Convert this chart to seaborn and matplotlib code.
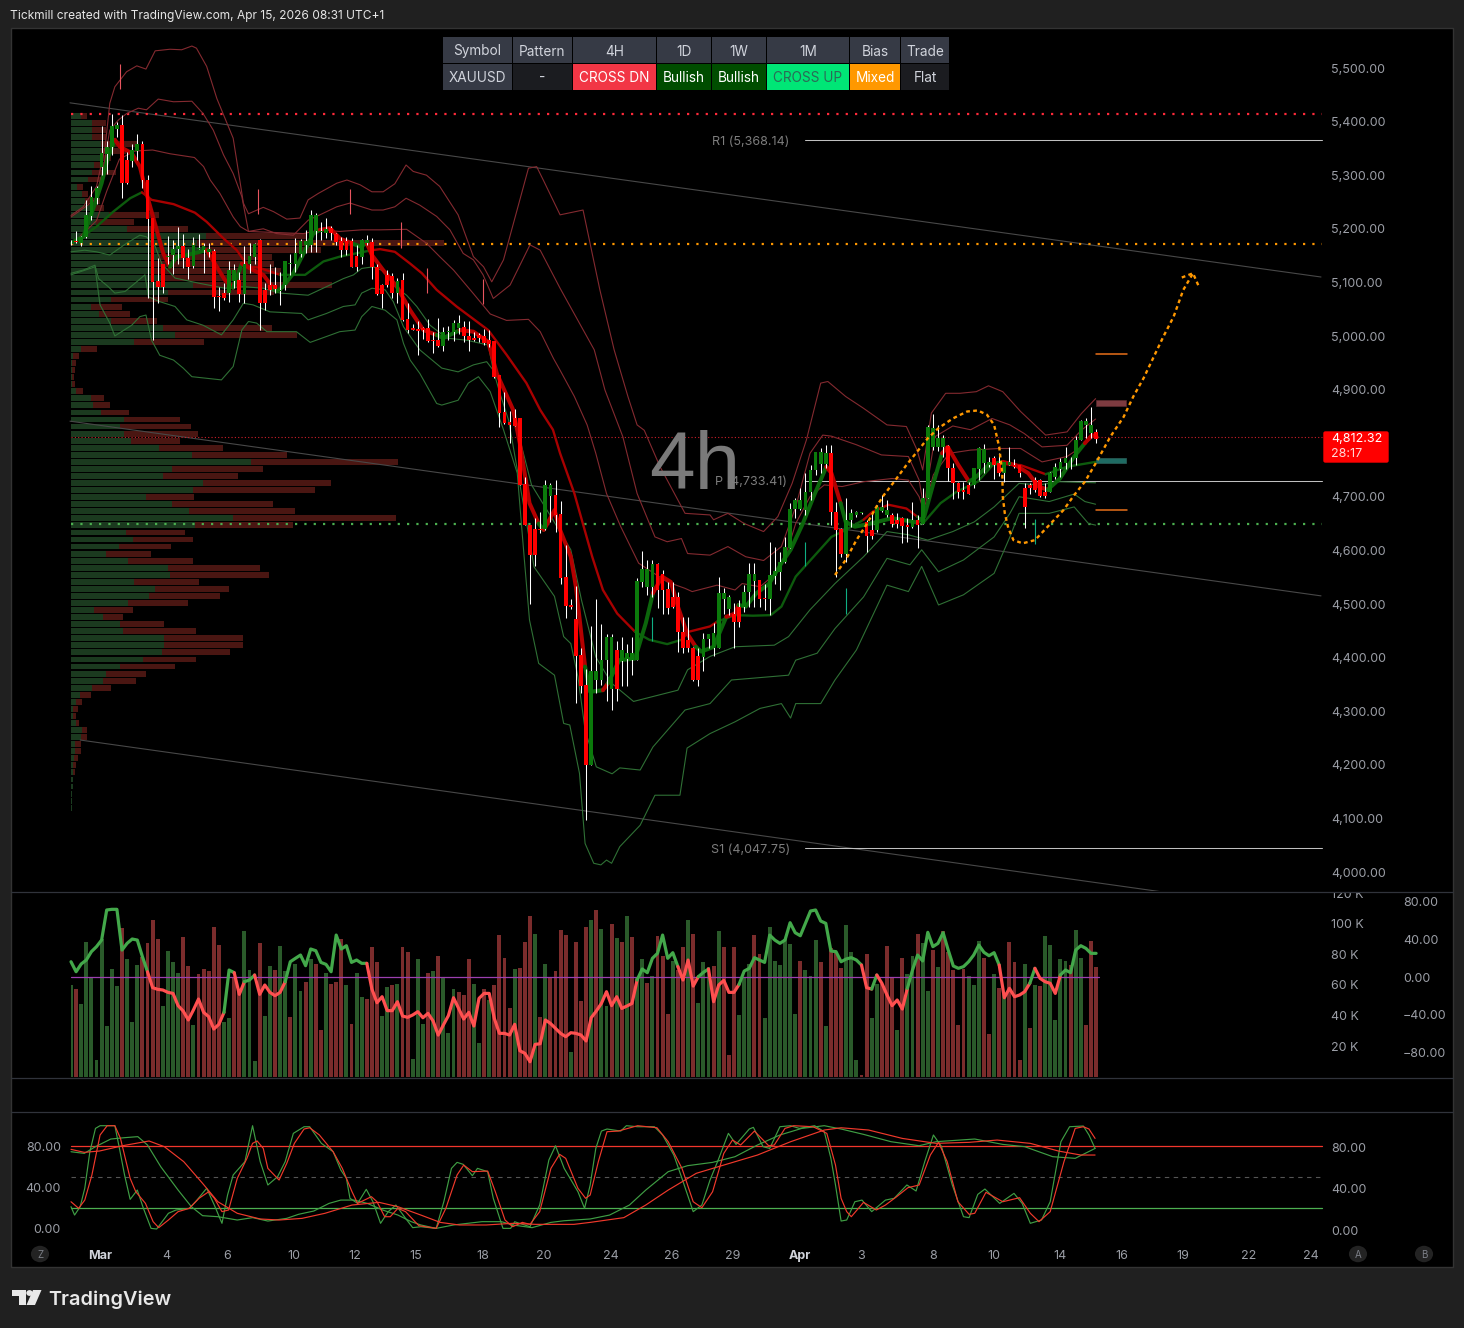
import numpy as np
import pandas as pd
import matplotlib
matplotlib.use("Agg")
import matplotlib.pyplot as plt
from matplotlib.patches import Rectangle, Circle, Polygon, FancyBboxPatch
from matplotlib.lines import Line2D
from matplotlib.transforms import ScaledTranslation
import seaborn as sns

# ---------- candles (4h XAUUSD) ----------
candle_dir = ("rrgggggggg" "rrggrrrrrg" "ggrrggggrr" "rggrgggrrr" "rggggggggg"
              "grrrrrrggr" "rrrrgrrrrr" "rrrggggrrr" "rrrrrrrrrr" "rrrggrrrrr"
              "rrgggggrgg" "gggggrrrrr" "rrrrgggggg" "rrgggrrggg" "gggggggggr"
              "rrggggrrgg" "grrrrgrggg" "ggrrrrrggg" "grrggrrrrr" "rrgggggggg" "gr")
body_top = [5176,5178,5184,5226,5260,5277,5341,5353,5391,5394,
            5394,5328,5347,5358,5358,5291,5221,5102,5135,5149,
            5163,5168,5168,5145,5170,5165,5168,5162,5159,5075,
            5080,5123,5124,5104,5135,5149,5172,5179,5086,5095,
            5095,5086,5139,5137,5154,5178,5178,5226,5226,5196,
            5199,5201,5190,5178,5178,5178,5149,5179,5179,5176,
            5128,5095,5114,5112,5103,5104,5031,5015,5013,5014,
            5014,4993,4993,5008,5009,5024,5024,5016,5000,4996,
            5001,5000,4993,4991,4927,4859,4839,4846,4846,4724,
            4647,4639,4639,4722,4722,4703,4668,4551,4498,4472,
            4405,4349,4375,4375,4395,4438,4438,4414,4414,4409,
            4409,4543,4566,4566,4574,4574,4556,4527,4512,4513,
            4448,4433,4417,4402,4434,4444,4445,4520,4520,4512,
            4482,4495,4523,4556,4556,4545,4511,4554,4562,4579,
            4607,4678,4694,4694,4709,4750,4784,4784,4781,4781,
            4672,4640,4656,4669,4672,4671,4653,4638,4681,4681,
            4675,4666,4657,4660,4647,4657,4657,4697,4831,4829,
            4809,4809,4795,4753,4726,4713,4722,4753,4790,4789,
            4765,4772,4762,4764,4764,4759,4759,4717,4722,4731,
            4731,4709,4745,4755,4765,4773,4773,4806,4842,4842,
            4834,4821]
body_bottom = [5175,5175,5173,5184,5224,5257,5316,5340,5352,5387,
               5285,5285,5327,5346,5291,5219,5101,5092,5092,5147,
               5151,5163,5145,5129,5130,5163,5160,5157,5073,5072,
               5070,5080,5103,5078,5078,5134,5148,5062,5061,5086,
               5087,5083,5095,5134,5135,5153,5170,5170,5195,5194,
               5192,5192,5176,5160,5160,5129,5129,5148,5173,5128,
               5078,5078,5095,5080,5081,5030,5011,5011,5010,5011,
               4991,4991,4981,4981,5007,5008,5014,4999,4993,4993,
               4996,4986,4985,4924,4856,4837,4834,4832,4722,4647,
               4591,4591,4638,4639,4701,4666,4549,4496,4494,4402,
               4347,4199,4199,4358,4358,4395,4342,4342,4394,4398,
               4395,4395,4541,4532,4532,4526,4526,4492,4494,4448,
               4418,4418,4358,4358,4400,4434,4417,4417,4510,4490,
               4467,4467,4495,4523,4543,4510,4510,4510,4552,4560,
               4579,4604,4677,4677,4676,4709,4749,4761,4761,4672,
               4638,4594,4594,4656,4666,4669,4627,4627,4638,4673,
               4665,4650,4650,4646,4643,4643,4647,4650,4697,4793,
               4792,4793,4753,4725,4709,4708,4706,4722,4751,4762,
               4759,4759,4744,4745,4759,4756,4745,4680,4717,4713,
               4701,4701,4709,4737,4751,4762,4772,4772,4805,4834,
               4818,4807]
wick_high = [5179,5196,5187,5254,5279,5279,5391,5363,5415,5400,
             5412,5344,5358,5377,5364,5300,5221,5145,5135,5186,
             5179,5203,5191,5163,5185,5191,5173,5173,5162,5092,
             5098,5139,5135,5120,5167,5173,5173,5180,5098,5135,
             5128,5120,5139,5153,5182,5180,5198,5235,5230,5213,
             5221,5205,5193,5185,5185,5182,5170,5180,5188,5182,
             5134,5097,5124,5118,5108,5117,5061,5023,5027,5017,
             5031,5008,5033,5017,5019,5030,5040,5027,5027,5008,
             5006,5013,5012,4991,4928,4896,4860,4863,4846,4736,
             4647,4660,4672,4731,4725,4731,4692,4610,4510,4533,
             4417,4378,4459,4509,4463,4444,4444,4430,4439,4426,
             4439,4548,4599,4582,4582,4576,4563,4541,4541,4523,
             4476,4476,4420,4417,4445,4444,4464,4551,4530,4517,
             4501,4507,4535,4577,4576,4545,4538,4616,4607,4597,
             4625,4688,4697,4716,4744,4759,4784,4790,4797,4797,
             4691,4641,4697,4678,4673,4671,4657,4669,4685,4703,
             4694,4669,4669,4663,4660,4691,4666,4716,4834,4854,
             4834,4815,4797,4762,4728,4728,4728,4753,4793,4798,
             4775,4776,4781,4765,4793,4770,4759,4725,4725,4736,
             4734,4725,4747,4762,4773,4793,4775,4813,4843,4846,
             4868,4826]
wick_low = [5170,5173,5167,5182,5216,5247,5300,5303,5338,5372,
            5258,5284,5316,5328,5277,5071,4992,5062,5080,5135,
            5116,5135,5126,5107,5126,5163,5117,5148,5052,5047,
            5067,5064,5089,5064,5061,5117,5135,5012,5048,5076,
            5080,5058,5086,5114,5120,5148,5154,5157,5157,5179,
            5182,5179,5170,5147,5151,5128,5122,5135,5170,5107,
            5076,5053,5092,5070,5061,5028,5006,5011,4965,4994,
            4989,4968,4980,4971,4993,4991,5004,4989,4971,4991,
            4989,4983,4980,4922,4831,4835,4801,4832,4722,4647,
            4500,4571,4632,4637,4653,4635,4537,4474,4491,4316,
            4333,4096,4199,4333,4349,4318,4302,4318,4346,4346,
            4367,4395,4532,4517,4513,4492,4482,4482,4492,4411,
            4409,4411,4356,4347,4374,4417,4402,4417,4482,4479,
            4417,4456,4485,4494,4495,4494,4489,4479,4538,4526,
            4576,4604,4660,4676,4666,4694,4741,4744,4753,4647,
            4551,4588,4579,4644,4663,4668,4597,4622,4635,4672,
            4663,4644,4641,4613,4616,4641,4604,4649,4697,4787,
            4786,4775,4730,4696,4697,4696,4705,4716,4731,4745,
            4756,4734,4739,4728,4759,4753,4737,4642,4706,4709,
            4700,4697,4708,4734,4737,4751,4751,4759,4805,4809,
            4809,4801]

# ---------- bands, x in bar numbers ----------
u3_x = [0,2.4,5,6.7,7.6,8.6,10.9,12.9,14.7,16.5,19.4,21.7,23.7,24.6,26.6,28.6,31.8,33.8,34.8,37.7,39.7,42.3,44.9,46.5,48.5,52.1,54.1,56.7,59,61.2,63.5,65.7,67.1,69.7,72.3,75.9,78.9,80.9,82.5,84.8,89.7,91.3,92.6,95.9,100.4,103.7,106.5,109.2,111,112.4,115.5,120.4,125.3,126,128.8,132,135.8,138.6,141.4,144.2,147,148.4,151.9,155.4,160,163.8,165.9,167,168.7,171.5,174.3,177.5,179.9,182.7,186.2,191.1,195.3,198.1,200.9]
u3_y = [5225,5241,5279,5353,5434,5465,5493,5504,5498,5532,5535,5534,5541,5537,5503,5443,5369,5248,5228,5240,5232,5218,5220,5254,5266,5285,5291,5282,5269,5269,5284,5319,5307,5300,5279,5226,5148,5129,5101,5142,5313,5316,5291,5226,5235,5086,4974,4887,4834,4824,4756,4669,4666,4657,4669,4650,4635,4663,4725,4806,4912,4915,4887,4865,4834,4831,4787,4750,4856,4893,4893,4896,4907,4896,4859,4815,4821,4855,4883]
u2_x = [0,2.4,4.7,6.3,7.6,9.3,10.9,13.2,14.8,17.1,20.1,23.7,25.9,27.9,29.9,31.8,33.5,34.8,37.7,40.3,43.6,46.5,48.8,52.1,54.7,59,61.2,63.5,65.7,68.4,71.7,74.3,76.9,78.9,80.8,82.8,86.1,90,92,95.9,102.6,104.7,108.2,111,114.5,116.9,119.7,120.9,125.3,128.8,132.3,135.8,139.3,142.1,144.9,147.4,149.1,154,158.9,164.2,166.3,167.2,169.4,172.9,176.4,180.6,184.1,186.9,190.4,195.3,198.1,200.9]
u2_y = [5222,5238,5254,5310,5384,5403,5415,5425,5422,5442,5437,5438,5415,5384,5338,5303,5260,5195,5200,5191,5188,5216,5226,5241,5248,5235,5235,5241,5257,5244,5223,5198,5154,5142,5114,5070,5095,5170,5160,5089,4974,4899,4812,4706,4625,4616,4622,4594,4591,4607,4588,4581,4607,4681,4781,4815,4813,4797,4778,4775,4731,4681,4812,4832,4825,4846,4834,4818,4793,4796,4824,4845]
u1_x = [0,5,7,9.5,12.5,16,19.4,24.2,26,27.3,29.2,31.8,33.2,34.8,45.6,48.8,52.7,57,60.6,65.8,69.7,72.3,75,78.9,82.2,85.4,89.7,92,94.6,95.9,98.7,101.2,102.9,105,107.8,111.3,116.9,120.4,121.8,126.7,130.2,131.6,135.1,138.6,140.7,142.1,144.9,147.7,151.2,155.4,161,164.2,166.3,167.2,169.1,172.2,176.4,182,186.2,190.4,195.3,198.1,200.9]
u1_y = [5170,5215,5270,5330,5345,5347,5340,5333,5316,5291,5266,5222,5204,5195,5191,5198,5195,5198,5198,5199,5173,5148,5123,5079,5041,5029,5031,5008,4958,4936,4887,4834,4781,4706,4644,4576,4541,4529,4523,4535,4526,4538,4532,4560,4607,4650,4700,4722,4719,4728,4734,4731,4700,4675,4741,4781,4787,4790,4790,4765,4775,4793,4815]
l1_x = [0,2.7,5,7.6,10.9,13.5,14.8,16.5,17.8,20.4,25.3,30.2,33.8,37.7,41,46.5,50.1,53.4,55.4,57,59.3,61.6,63.5,65.8,67.8,70.4,73.7,77.6,81.8,82.8,85.1,87.1,88.2,90.3,94.1,98,100.1,102.9,106,110.3,119,120.9,125.3,130.2,137.9,140.7,144.9,149.8,155.4,160,164.2,168,172.9,177.1,181,185.9,189.7,193.9,200.9]
l1_y = [5157,5160,5157,5151,5173,5188,5185,5167,5135,5108,5098,5089,5092,5089,5080,5076,5092,5107,5114,5126,5129,5120,5092,5076,5055,5020,4996,4992,4983,4936,4899,4849,4800,4722,4663,4601,4507,4401,4352,4318,4339,4377,4402,4420,4423,4439,4489,4538,4588,4635,4629,4619,4635,4653,4681,4725,4722,4728,4726]
l2_x = [0,2.4,4.7,5.4,7.3,8.6,10.6,12.5,14.5,15.2,17.4,20.4,22.7,25.9,29.5,31.8,33.8,35.7,39,45.2,46.5,50.1,53.4,55.7,57,59,61.6,63.2,65.2,68.4,72.7,75.9,78.9,81.5,82.8,84.1,85.8,88.9,90.8,94.8,96.6,98,99.4,100.8,103,106.1,107.6,111.6,114.1,120.4,125.3,129.5,140.7,142.1,146.3,149.8,155.4,160,164.5,166.8,170.1,175,181,184.1,185.9,191.8,196.7,198.8,200.9]
l2_y = [5117,5123,5132,5107,5092,5080,5083,5098,5114,5073,5064,5055,5030,5020,5002,5030,5061,5058,5045,5042,5030,5042,5055,5058,5080,5089,5086,5064,5017,4974,4940,4933,4946,4952,4936,4893,4843,4675,4569,4514,4439,4426,4364,4265,4196,4183,4194,4190,4233,4302,4314,4358,4367,4395,4408,4454,4513,4585,4573,4601,4560,4582,4625,4669,4700,4691,4705,4691,4686]
l3_x = [0,4.7,5.7,7.6,8.6,11.9,13.5,14.7,15.8,17.4,20.1,22,23.7,26.6,29.5,31.8,33.5,34.8,36.4,38.4,44.2,46.9,50.1,52.7,55.7,57,59,61.6,63.9,65.2,66.5,68.4,71.7,72.7,75.9,77.9,79.9,82.2,84.8,87.5,88.9,89.9,91.7,94.8,96.6,97.8,99.7,100.8,102.5,103.9,105,106,107.6,111.6,114.5,119.4,120.8,125.3,130.2,135.1,139.3,141.1,142.1,147,149.8,154,160,164.2,166.8,170.1,175,181,184.1,185.9,191.8,196.7,199.5,200.9]
l3_y = [5114,5129,5058,5024,5000,5020,5036,5039,4992,4964,4955,4940,4924,4921,4918,4943,5011,5027,5024,5008,5008,4988,4999,5008,5011,5036,5055,5048,5030,4986,4955,4930,4874,4871,4880,4912,4924,4896,4825,4744,4582,4470,4389,4367,4277,4274,4184,4053,4016,4013,4022,4016,4047,4087,4143,4143,4231,4258,4280,4305,4314,4287,4314,4314,4358,4414,4535,4523,4570,4498,4517,4557,4625,4669,4669,4681,4650,4647]

# medium line: 1 rising colour, 0 falling colour for the piece that starts at each point
mid_x = [0,1.8,5,8.3,11.6,13.9,15.8,20.1,24.3,26.6,29.9,32.5,34.8,36.7,41,43.6,45.9,49.5,52.7,59,60.6,63.5,66.5,68.8,71.7,75.6,81.8,85.4,89.3,92,94.5,95.9,98.7,102.2,104.3,107.1,110.6,113.4,116.9,119.7,121.1,125.3,126.7,130.2,133.7,137.2,139.3,142.1,145.6,149.1,151.9,155.4,157.2,160.3,163.8,165.9,167.3,170.5,173.6,177.8,181,186.2,191.1,195.3,200.9]
mid_y = [5173,5182,5204,5232,5257,5268,5254,5246,5230,5213,5182,5160,5129,5128,5114,5114,5114,5139,5148,5160,5162,5157,5135,5117,5086,5055,5011,4965,4912,4862,4825,4781,4706,4588,4526,4482,4448,4433,4425,4433,4448,4458,4467,4479,4478,4479,4495,4551,4588,4625,4638,4657,4672,4685,4678,4663,4653,4688,4709,4728,4762,4759,4742,4756,4765]
mid_up = [1,1,1,1,1,0,0,0,0,0,0,0,0,0,1,1,1,1,1,0,0,0,0,0,0,0,0,0,0,0,0,0,0,0,0,0,1,1,1,0,0,0,1,1,1,1,1,1,1,1,1,0,0,0,0,1,1,1,1,1,0,0,1,1,1]

fast_x = [0.5,2.4,4.7,6,7.3,8.6,9.6,11.9,13.5,14.8,16.8,18.1,19.4,20.7,22.7,25.3,26.6,28.2,30.2,31.8,33.5,35.7,37.7,39.7,40.3,41.6,43.6,45.6,47.5,48.8,50.8,52.7,55,56.7,58,59,61.2,63.9,66.5,69.1,71.7,73,76.3,78.9,81.8,83.5,86.7,88,89.9,91.7,92.7,93.8,94.8,95.9,98,99,100.8,101.8,104.3,105.3,107.5,110.6,112.7,114.1,115.9,117.6,119,120.8,122.5,123.6,126,128.5,130.2,130.9,132.3,134.4,136.9,139.3,141.1,143.5,145.6,148.1,149.1,150.9,151.9,153.7,156.8,161,165.9,167.3,169.1,170.8,171.9,174,176.1,177.5,179.9,182.7,185.2,187.7,189.7,191.5,193.9,196.7,198.8,200.2,201.1]
fast_y = [5176,5185,5247,5285,5335,5366,5353,5341,5316,5266,5198,5154,5129,5148,5151,5157,5160,5135,5104,5090,5135,5123,5114,5089,5083,5092,5117,5154,5191,5198,5201,5182,5173,5167,5173,5151,5123,5092,5048,5011,5002,4996,5011,5008,4989,4930,4862,4800,4688,4650,4638,4657,4675,4638,4588,4532,4383,4336,4339,4352,4395,4398,4464,4520,4551,4541,4495,4445,4420,4411,4420,4476,4482,4498,4495,4520,4538,4576,4601,4650,4700,4756,4744,4688,4653,4644,4650,4660,4652,4663,4725,4781,4793,4759,4728,4737,4759,4765,4759,4744,4719,4713,4734,4775,4800,4815,4812]
fast_up = [1,1,1,1,1,0,0,0,0,0,0,0,1,1,1,1,0,0,0,1,0,0,0,1,1,1,1,1,1,0,0,0,1,1,0,0,0,0,0,0,1,1,0,0,0,0,0,0,0,1,0,0,0,0,0,0,1,1,0,1,1,1,1,0,0,0,0,0,1,1,1,0,0,1,1,1,1,1,1,1,1,0,0,1,1,1,1,1,1,1,1,0,0,0,1,1,1,0,0,0,0,1,1,1,0,0,0]

# ---------- dashed projection ----------
path_x = [149.8,151.9,154,156.1,157.9,159.3,161.4,163.8,165.9,168,170.1,172.9,175.7,177.8,179.6,181,182,182.6,182.7,183.1,183.8,184.8,186.6,189,191.8,194.6,196.7,198.8,200.9,203.8,206.4,208.3,210.3,212.3,214.2,216.2,218.1,220]
path_y = [4554,4582,4619,4650,4681,4702,4728,4759,4784,4809,4828,4846,4859,4861,4853,4834,4793,4744,4700,4669,4641,4619,4613,4619,4647,4675,4703,4728,4762,4812,4849,4887,4921,4961,4999,5036,5086,5117]
arrow_x = [217.8,220,221.2]
arrow_y = [5109,5117,5091]

# ---------- volume profile, one row per price step ----------
profile_top = 5410.4
profile_step = 13.17
profile_buy = [2,4.2,4.1,4.1,5.8,5.8,5.6,4.6,4.2,3.4,1.1,2.1,2.7,4.6,7.5,4.9,11,26.5,24.8,26.5,
               17,15.7,15.7,18,23.9,19.1,7.8,3.9,5.4,7.8,18,20.4,12.4,2,.3,.1,.1,.1,.1,1,
               3.9,4.3,5.9,10.4,9.6,10.4,11.8,17.3,23.8,35.3,19.9,18.1,25.9,23.9,14.7,19.9,23.1,31.8,24.4,10.8,
               12.2,9.4,6.9,11.1,19,19.5,12.3,16.5,15.3,11.1,4.5,6.2,9.7,10.2,18.2,18.2,17.9,14.1,9.7,6.9,
               6.3,4.1,1.8,1,.4,.4,1,2.2,2,.8,.8,.5,.4,.3,.3,.3,.2,.2,.1,.05]
profile_total = [3.1,6.9,6.9,6.9,12.9,10.8,7.8,6.9,8.8,5.9,2.3,3.3,5.6,6.5,17.2,12.3,22.9,46.1,73.2,49,
                 39.5,39.9,41.2,36.9,51.1,39.9,19,10,11.6,16.9,39.5,44.4,26,5,1.5,1,.8,.5,.8,2.3,
                 6.5,7.6,11.3,21.4,23.5,24.9,21.4,29.8,42.3,64.2,37.7,32.7,50.9,47.8,24.1,39.7,44,63.7,43.6,22.3,
                 23.9,19.7,15.7,23.9,37,38.9,25,31,29.2,22.9,12.1,10.2,18.2,24.6,33.8,33.8,31.1,24.6,20.3,14.8,
                 12.7,7.8,3.9,2.1,1.3,.9,1.5,3.1,3.1,1.9,1.9,1.3,.9,.7,.4,.3,.2,.2,.1,.05]

# ---------- volume pane ----------
volume_k = [59.7,57.1,47.3,87.6,64.3,10.7,89.8,32.7,70.2,59,
            97,76.7,35.5,72.8,77.8,87.2,102.2,89.8,46,81.9,
            74.7,67.5,91.1,72.1,33.6,66.9,70.2,68.9,97.6,85.9,
            35.5,38.1,64.9,55.6,95,69.5,10,87.2,39.4,72.1,
            69.5,85.2,69.1,38.8,73.4,55.8,61.7,76.7,73.4,30.3,
            67.5,60.4,61.7,89.8,59.7,34.2,67.5,51.9,50.6,84.5,
            74.7,39.4,58.4,59.7,60.4,84.5,81.3,11.3,76.7,34.2,
            67.5,68.9,78.7,64.3,28.3,57.1,55.1,53.2,76.7,60.4,
            21.8,57.1,49.9,59.7,92.4,77.4,44.7,70.2,70.8,87.8,
            104.8,93,38.8,73.4,64.3,68.9,95.7,92.4,15.9,87.8,
            49.2,97.6,102.2,108.7,96.3,46,99.6,90.4,87.8,104.8,
            91.1,64.3,76.7,61,65.6,92,78.7,40.7,75.4,69.5,
            84.5,102.2,93,47.9,74.7,71.3,72.1,95,84.5,13.9,
            84.5,40.1,64.3,73.4,92.4,80,38.1,97.6,75.4,72.8,
            89.8,86.5,40.7,75.4,69.5,65.6,89.1,74.7,32.9,83.9,
            81.3,70.8,98.9,81.3,10.7,0.7,80,38.1,60.4,60.4,
            85.2,64.9,30.3,77.4,66.9,78.7,93,87.2,55.8,82.6,
            71.5,95,81.3,69.9,33.6,70.2,65.6,59.7,88.5,77.4,
            27.7,66.9,57.7,53.8,87.8,74.7,10.7,73.4,31.6,59.7,
            59,91.7,85.9,36.8,76.7,75.4,72.8,95.7,77.4,33.6,
            88.5,71.5]
volume_dir = ("grgggggggg" "rgggrrrrgg" "ggrrgrrrrr" "ggrrgggrgg" "rggrggrgrr"
              "grrrgrggrr" "rggrgrrggg" "rgrgggrrrg" "grgrrrrgrr" "rgrgrrrrgr"
              "rrgrggrgrg" "rggrgrrrgr" "rgrgggrgrr" "rgggrrgggg" "gggrgggrgr"
              "rrgggrrggr" "rrgrggrggr" "grrrrrgggr" "rgrgrrrgrg" "rgggggrggr" "rr")
osc_value = [16.2,5.6,13.8,18,26.9,32.2,39.2,71.1,71.8,71.8,
             28.6,35.7,40.3,39.2,21.6,5.6,-11.3,-13.1,-13.8,-16.3,
             -17.4,-30.4,-36.1,-45.6,-35,-23.4,-37.5,-42.1,-55.2,-50.2,
             -37.5,7.4,4.6,-18.4,-5,-3.2,2.1,-18.4,-8.5,-16.3,
             -19.8,-16.3,-5,16.2,19.8,23.3,12,29.7,27.9,15.5,
             13.4,5.6,44.5,29.7,33.2,15.5,18,14.5,14.5,-12.8,
             -27.3,-20.9,-35.7,-35.7,-26.2,-41.4,-42.8,-40.3,-36.8,-43.2,
             -38.6,-46.7,-61.6,-51,-41,-22,-33.3,-44.6,-37.5,-52,
             -22.7,-17.4,-17.4,-43.9,-59.8,-59.8,-61.6,-50.2,-78.2,-81,
             -89.9,-71.5,-70.8,-45.6,-49.2,-54.5,-59.8,-63.3,-59.1,-59.8,
             -61.6,-67.9,-43.2,-36.1,-28,-15.6,-30.4,-20.9,-33.3,-30.8,
             -28,-3.2,8.5,4.6,19.8,25.1,44.5,19.8,25.8,11,
             -3.2,18,-9.6,0.3,4.9,8.5,-26.2,-8.5,-3.6,-16.3,
             -16.3,-7.8,6.3,9.2,20.5,18,15.5,44.5,39.2,35.7,
             39.2,57.6,47,43.8,56.9,70,71.1,59.4,56.9,27.6,
             26.9,16.2,19.1,20.5,18,12.7,-11.3,-12.8,2.1,-6.7,
             -19.1,-30.4,-24.4,-34,-12,7.4,23.3,17,47.4,32.2,
             35.7,47,28.6,11.7,9.2,11,16.2,23.3,33.9,26.2,
             22.6,25.8,12.7,-22,-12,-20.9,-19.1,-15.6,-6.7,9.2,
             -1.4,-5,-6.7,-17.4,2.1,7.4,4.6,28.6,33.2,30.4,
             25.1,25.1]
osc_up = ("1111111111" "1111100000" "0000000000" "1100110000" "0011111111"
          "1111111100" "0000000000" "0000000000" "0000000000" "0000000000"
          "0000000000" "0111111110" "0001100000" "0111111111" "1111111111"
          "1111100100" "0000111111" "1111111111" "1100000010" "0000111111" "11")

# ---------- stochastic pane ----------
k_fast_x = [0,.7,1.8,2.7,3.7,4.8,5.7,8.6,9.5,10.5,11.6,13,14.2,15.7,16.8,19.1,20.6,23.2,24.7,26.6,28.1,29.6,30.7,31.8,34.1,35.6,37.1,38.6,40.5,42,43.6,45.7,46.8,49.1,51.4,52.9,54,54.7,56.2,57.9,59.2,60.7,62.2,63.7,65.6,67,68.6,71.6,73.1,74.6,75.7,76.9,78.7,79.7,81.7,82.8,84.7,86.2,87,90,91.9,93.7,95,96.7,99.4,100.7,101.8,102.9,104,105.1,107.8,108.9,111.1,114.4,116,118.2,119.8,122,123.7,125.3,126.9,128.9,130.4,133,133.8,135.7,137,139,141.1,142.8,145.8,147.7,149,149.9,151,152.1,153.7,155.1,157,159.7,161.4,163.9,165.7,167.4,169.1,170.7,172.8,175,176.1,177.8,179.2,182.1,184.9,186.5,188.1,190.3,192,194.1,195.8,198.5,199.6,200.8]
k_fast_y = [21.6,13.5,21.6,39.4,74.8,97.4,100,100,78,52.3,28.7,37.7,20,.6,0,15.2,18.4,20,28,39.4,23.2,5.5,32.9,52.3,65.2,100,65.2,42.6,50.6,65.2,92.6,99,99,82.9,74.8,57.1,49,29.7,24.8,38.4,26.4,5.5,16.8,23.2,10.3,1.3,2.2,.6,26.4,58.7,64.5,62.6,51.6,58.7,55.5,29.7,.6,.6,7,2.2,23.2,66.8,80.6,58.7,36.1,20,42.6,78,94.8,96.8,94.8,100,99,99,91,71.6,49,16.8,23.2,47.4,66.8,92.6,81.9,96.8,98.4,79.7,78,99,100,97.4,100,94.2,68.4,42.6,7.7,8.7,26.4,28,16.8,28,29.7,42.6,36.8,65.2,91,79.7,42.6,11.9,11,33.5,38.7,24.8,34.5,24.8,5.5,8.7,26.4,84.5,99,99.7,91,78]
d_fast_x = [0,1.5,2.7,4.1,5.7,7.1,8.6,9.7,11.6,12.7,14.6,16.1,17.2,19.1,21,23.2,25.1,27,28.1,29.6,30.9,32.6,34.5,35.6,36.5,37.7,38.6,40.8,42.3,43.8,45.7,46.8,48.7,51.4,53.2,55.1,56.2,58.9,60,61.5,62.6,64.1,65.6,68.2,71.6,73.5,75.7,77,78.7,81.7,83.2,85.1,86.6,88.5,90,91.9,94.1,95.8,97,99.4,100.9,101.8,103.4,105.1,107.3,111.1,114.9,117.1,119.8,122,123.7,125.8,128,129.7,131.3,134,136.8,137.9,140,141.7,145.5,148.2,149.9,151,152.1,153,155.4,157.9,159.7,161.9,164.1,166.3,168.5,170.1,171.8,173.9,176.1,177.2,179.4,182.7,186,188.1,189.8,192,194.7,196.9,198.5,199.6,200.8]
d_fast_y = [26.4,20,28,52.3,91,100,100,87.7,49,36.1,24.8,7.1,1.3,8.7,16.8,20,29.7,36.1,29.7,16.8,18.4,49,68.4,82.9,85.2,78,58.7,47.4,63.5,82.9,96.8,98,91,74.8,58.7,36.1,24.8,31.3,26.4,11.9,11.9,20,16.8,3.2,.6,20,52.3,61.9,55.5,56.1,36.1,8.7,2.2,6.4,4.5,16.8,58.7,72.3,68.4,39.4,29.7,32.9,65.2,94.2,94.8,100,98,84.5,58.7,26.4,20.6,36.1,73.2,86.1,81.3,94.8,80.6,81.3,97.4,100,99,92.6,61.9,29.7,16.8,11.9,25.8,18.4,23.2,31.3,40,42.6,71.6,83.9,65.2,26.4,14.2,15.2,35.5,26.4,30.3,15.2,7.1,16.8,65.2,97.4,99,96.8,87.7]
k_slow_x = [0,2.6,4.8,7.8,10.5,13.1,15,17.6,21,23.6,25.8,28.8,32.6,35.6,38.6,42.3,44.6,47.6,50.6,52.9,55.5,58.1,61.1,64.1,66.7,68.6,71.6,75,80.6,84.4,86.6,90.4,94.1,96.7,101.8,105.6,109.5,112.7,117.1,120.9,125.8,130.2,134.6,139,143.3,147.7,151,155.4,160.8,166.3,169.6,177.2,182.7,187,192.5,196.9,200.8]
k_slow_y = [74.8,73.2,79.7,87.1,88.4,89.4,81.3,60.3,37.7,21.6,12.9,11.9,8.7,11,7.7,10.3,14.2,17.4,24.8,28,28,24.8,18.4,13.5,7.1,3.9,.6,3.9,7.1,7.1,3.9,1.3,6.4,8,9.7,13.5,23.2,37.7,55.5,61.3,64.5,70,81.3,91,97.4,100,96.8,91.6,84.5,80.6,84.5,87.1,81.9,79.7,70,68.4,78]
d_slow_x = [0,2.6,5.6,10.1,15.3,18.3,22.1,25.8,28.8,32.6,37.1,40.8,45.3,49.8,55.1,60.4,64.1,68.6,72.4,76.1,81.4,86.6,91.1,98.6,101.8,108.4,112.7,117.1,122.6,128,134.6,141.1,147.7,151,156.4,163,169.6,176.1,181.6,188.1,193.6,198,200.8]
d_slow_y = [77.1,74.2,75.5,80.6,85.2,79.7,65.2,44.2,26.4,15.2,9.7,8.7,10.3,15.2,23.2,25.8,21.6,13.5,6.4,3.9,3.9,5.5,4.5,4.5,6.4,11,23.2,37.7,53.9,61.9,71.6,84.5,95.8,98,95.8,87.7,82.9,83.9,86.1,82.9,75.5,71.6,71.6]

# ---------- labels ----------
price_ticks = [5500,5400,5300,5200,5100,5000,4900,4800,4700,4600,4500,4400,4300,4200,4100,4000]
price_tick_labels = ["5,500.00","5,400.00","5,300.00","5,200.00","5,100.00","5,000.00","4,900.00",None,"4,700.00","4,600.00","4,500.00","4,400.00","4,300.00","4,200.00","4,100.00","4,000.00"]
vol_ticks = [120,100,80,60,40,20]
vol_labels = ["120 K","100 K","80 K","60 K","40 K","20 K"]
osc_ticks = [80,40,0,-40,-80]
osc_labels = ["80.00","40.00","0.00","\u221240.00","\u221280.00"]
stoch_ticks = [80,40,0]
stoch_labels = ["80.00","40.00","0.00"]
time_pos = [5.7,18.6,30.6,43.7,55.7,67.6,80.8,92.7,105.9,117.8,129.8,142.9,154.9,169,181,193.9,206,218,231,243.1]
time_labels = ["Mar","4","6","10","12","15","18","20","24","26","29","Apr","3","8","10","14","16","19","22","24"]
table_header = ["Symbol","Pattern","4H","1D","1W","1M","Bias","Trade"]
table_row = ["XAUUSD","-","CROSS DN","Bullish","Bullish","CROSS UP","Mixed","Flat"]
table_fill = ["#363a45","#1b1c20","#f23645","#004d00","#004d00","#00e676","#ff9800","#1b1c20"]
table_text = ["#d1d4dc","#d1d4dc","#ffffff","#ffffff","#ffffff","#2b6b57","#ffffff","#d1d4dc"]
table_edges = [443,513,573,657,712,767,850,901,950]
pivot_labels = ["R1 (5,368.14)","P (4,733.41)","S1 (4,047.75)"]
pivot_levels = [5365,4730,4044.5]

# ---------- set-up ----------
W, H = 1464, 1328
sns.set_theme(style="dark", rc={"axes.grid": False})
plt.rcParams["font.family"] = ["Inter", "DejaVu Sans"]
BG = "#202020"
fig = plt.figure(figsize=(W/100, H/100), dpi=100, facecolor=BG)

def box(x0, y0, x1, y1):
    return [x0/W, 1-y1/H, (x1-x0)/W, (y1-y0)/H]

XLIM = ((11-71)/5.1, (1453-71)/5.1)
LABEL_X = (1331-71)/5.1
RIGHT_END = (1322-71)/5.1
GREY = "#9b9ea6"
TEXT_DOWN = ScaledTranslation(0, -1.7/100, fig.dpi_scale_trans)

fig.add_artist(Rectangle((11/W, 1-1267/H), 1442/W, 1239/H, transform=fig.transFigure,
                         facecolor="black", edgecolor="none", zorder=1))
fig.add_artist(Rectangle((11/W, 1-1267/H), 1442/W, 1239/H, transform=fig.transFigure,
                         facecolor="none", edgecolor="#333333", lw=1, zorder=8))

def make_ax(y0, y1, ylim):
    ax = fig.add_axes(box(11, y0, 1453, y1), facecolor="black", zorder=2)
    return ax

def finish(ax, ylim):
    ax.set_xlim(*XLIM)
    ax.set_ylim(*ylim)
    ax.set_xticks([]); ax.set_yticks([])
    ax.set_xlabel(""); ax.set_ylabel("")
    for s in ax.spines.values():
        s.set_visible(False)

def line(ax, x, y, color, lw, z=3, **kw):
    sns.lineplot(x=list(x), y=list(y), ax=ax, color=color, lw=lw, estimator=None, sort=False,
                 errorbar=None, legend=False, zorder=z, **kw)

def colored(ax, x, y, up, cup, cdn, lw, z):
    """Draw a line piece by piece in the colour of each run."""
    start = 0
    n = len(x)
    for k in range(1, n):
        if k == n-1 or up[k] != up[start]:
            line(ax, x[start:k+1], y[start:k+1], cup if up[start] else cdn, lw, z, solid_capstyle="round")
            start = k

def label(ax, x, y, s, **kw):
    ax.text(x, y, s, transform=ax.transData + TEXT_DOWN, va="center", **kw)

# ---------- main pane ----------
main_lim = (5500-(891-68)*1.866, 5500-(28-68)*1.866)
ax = make_ax(28, 891, main_lim)
rows = [profile_top - profile_step*k for k in range(len(profile_total))]
sns.barplot(x=profile_total, y=rows, orient="y", native_scale=True, color="#4a1612", saturation=1,
            width=0.83, linewidth=0, errorbar=None, ax=ax, zorder=1)
sns.barplot(x=profile_buy, y=rows, orient="y", native_scale=True, color="#1b3a1f", saturation=1,
            width=0.83, linewidth=0, errorbar=None, ax=ax, zorder=1.1)

# trend lines
for tx, ty in [((-0.2,245.1),(5435,5110)), ((-0.2,245.1),(4841,4515)), ((1.8,245.1),(4246,3921))]:
    line(ax, tx, ty, "#484848", 0.8, 1.5)

# level lines
for lvl, col, dots in [(5415,"#ff2a3a",(1,3.2)), (5171,"#ff9800",(1,3.2)), (4649,"#4caf50",(1,3.2))]:
    line(ax, (0,RIGHT_END), (lvl,lvl), col, 1.6, 1.7, linestyle=(0,dots))
line(ax, (0,RIGHT_END), (4811,4811), "#d0202a", 0.8, 1.7, linestyle=(0,(1,2)))

# pivots
for lab, val in zip(pivot_labels, pivot_levels):
    line(ax, ((805-71)/5.1,RIGHT_END), (val,val), "#c0c0c0", 0.75, 1.8)
    label(ax, (751-71)/5.1, val, lab, color="#7d7d7d", fontsize=9, ha="center", zorder=2.5)

# bands
for xs, ys in [(u3_x,u3_y),(u2_x,u2_y),(u1_x,u1_y)]:
    line(ax, xs, ys, "#842a30", 0.8, 2)
for xs, ys in [(l1_x,l1_y),(l2_x,l2_y),(l3_x,l3_y)]:
    line(ax, xs, ys, "#2f7035", 0.8, 2)
colored(ax, mid_x, mid_y, mid_up, "#0d5a0d", "#a80000", 1.7, 2.4)
colored(ax, fast_x, fast_y, fast_up, "#0c660c", "#b40000", 2.9, 2.6)

# small marks
for xm, y0, y1 in [(9.7,5507,5460),(36.7,5274,5227),(54.8,5274,5227),(64.8,5212,5165),(69.9,5126,5080),(80.8,5106,5059)]:
    ax.vlines(xm, y1, y0, color="#e8555f", lw=0.8, zorder=3)
for xm, y0, y1 in [(114,4476,4430),(144,4616,4570),(152,4529,4482),(189,4658,4612)]:
    ax.vlines(xm, y1, y0, color="#0fae83", lw=0.8, zorder=3)

# candles
idx = np.arange(len(body_top))
cols = ["#ff0000" if c == "r" else "#0b7a0b" for c in candle_dir]
ax.vlines(idx, wick_low, wick_high, color="white", lw=0.75, zorder=4)
ax.bar(idx, np.array(body_top)-np.array(body_bottom), bottom=body_bottom, width=0.74,
       color=cols, linewidth=0, zorder=5)

# projection
line(ax, path_x, path_y, "#ff9800", 1.7, 6, linestyle=(0,(1.6,1.4)))
line(ax, arrow_x, arrow_y, "#ff9800", 1.7, 6, linestyle=(0,(1.6,1.4)))

# right-hand marks
line(ax, (200.9,207), (4966,4966), "#e8701a", 1.1, 3)
line(ax, (200.9,207), (4675,4675), "#e8701a", 1.1, 3)
ax.add_patch(Rectangle((200.9,4869),6,11,facecolor="#7d3b40",edgecolor="#5c2a2e",lw=0.5,zorder=3))
ax.add_patch(Rectangle((200.9,4762),6,11,facecolor="#1f6b63",edgecolor="#2b5f59",lw=0.5,zorder=3))

ax.text((695-71)/5.1, 4753, "4h", color="#7a7a7a", fontsize=59, ha="center", va="center",
        family=["Liberation Sans","DejaVu Sans"], zorder=2.2)

for val, lab in zip(price_ticks, price_tick_labels):
    if lab:
        label(ax, LABEL_X, val, lab, color=GREY, fontsize=9, ha="left", zorder=7)
finish(ax, main_lim)

# last price tag
fig.add_artist(FancyBboxPatch((1324/W, 1-462/H), 64/W, 30/H, boxstyle="round,pad=0,rounding_size=0.001",
               transform=fig.transFigure, facecolor="#ff0000", edgecolor="#ff0000", lw=1, zorder=8))
fig.text(1331/W, 1-439.5/H, "4,812.32", color="#ffffff", fontsize=9, ha="left", va="center", zorder=9)
fig.text(1331/W, 1-454/H, "28:17", color="#ffd9d9", fontsize=9, ha="left", va="center", zorder=9)

# ---------- volume pane ----------
vol_lim = (-0.3, (1076.5-892)/30.6*20)
ax_v = make_ax(892, 1077, vol_lim)
vol_df = pd.DataFrame({"bar": idx, "vol": volume_k, "side": list(volume_dir)})
sns.barplot(data=vol_df, x="bar", y="vol", hue="side", hue_order=["g","r"], native_scale=True, dodge=False,
            palette={"g":"#2a5a2a","r":"#7b2c2c"}, saturation=1, width=0.76, linewidth=0,
            errorbar=None, legend=False, ax=ax_v, zorder=2)
for val, lab in zip(vol_ticks, vol_labels):
    ax_v.text(LABEL_X, val, lab, transform=ax_v.transData + TEXT_DOWN, color=GREY, fontsize=9,
              ha="left", va="center", clip_on=True)
finish(ax_v, vol_lim)
clip_rect = Rectangle((0,-1),300,200,transform=ax_v.transData)
for p in ax_v.patches:
    p.set_clip_path(clip_rect)

osc_lim = ((977-1077)/0.9425, (977-892)/0.9425)
ax_o = ax_v.twinx()
ax_o.set_zorder(3)
ax_o.patch.set_visible(False)
line(ax_o, (0,201.5), (0,0), "#9c3fb0", 0.9, 2)
up_flags = [int(c) for c in osc_up]
colored(ax_o, list(idx), osc_value, up_flags, "#43a84a", "#ff5050", 2.3, 3)
for val, lab in zip(osc_ticks, osc_labels):
    label(ax_o, (1403-71)/5.1, val, lab, color=GREY, fontsize=9, ha="left")
finish(ax_o, osc_lim)

# ---------- stochastic pane ----------
st_lim = ((1229-1240)/1.033, (1229-1111)/1.033)
ax_s = make_ax(1111, 1240, st_lim)
line(ax_s, (0,RIGHT_END), (80,80), "#f2362c", 0.9, 2)
line(ax_s, (0,RIGHT_END), (20,20), "#4caf50", 0.9, 2)
line(ax_s, (0,RIGHT_END), (50,50), "#555555", 0.8, 2, linestyle=(0,(4,4)))
line(ax_s, k_fast_x, k_fast_y, "#3f9e44", 0.85, 3)
line(ax_s, d_fast_x, d_fast_y, "#f0392b", 0.85, 3.1)
line(ax_s, k_slow_x, k_slow_y, "#3f9e44", 0.85, 3)
line(ax_s, d_slow_x, d_slow_y, "#f0392b", 0.85, 3.1)
for val, lab in zip(stoch_ticks, stoch_labels):
    label(ax_s, LABEL_X, val-0.8, lab, color=GREY, fontsize=9, ha="left")
    label(ax_s, (61-71)/5.1, val+0.5, lab, color=GREY, fontsize=9, ha="right")
finish(ax_s, st_lim)

# ---------- time axis ----------
for pos, lab in zip(time_pos, time_labels):
    strong = lab in ("Mar","Apr")
    fig.text((71+5.1*pos)/W, 1-1255.7/H, lab, color="#d0d3da" if strong else GREY, fontsize=9,
             fontweight="bold" if strong else "normal", ha="center", va="center", zorder=9)

# separators
for yy in (891.5, 1077.5, 1111.5):
    fig.add_artist(Line2D([11/W,1453/W],[1-yy/H,1-yy/H],color="#30333b",lw=0.9,zorder=8))

# round corner buttons
for cx, lab in [(40,"Z"),(1358,"A"),(1424,"B")]:
    fig.add_artist(Circle((cx/W, 1-1254/H), 0.0062, transform=fig.transFigure, facecolor="#232323", edgecolor="none", zorder=8))
    fig.text(cx/W, 1-1255/H, lab, color="#7c7f87", fontsize=7, ha="center", va="center", zorder=9)

# ---------- status table ----------
for c in range(len(table_header)):
    x0, x1 = table_edges[c], table_edges[c+1]-1
    fig.add_artist(Rectangle((x0/W,1-63/H),(x1-x0)/W,26/H,transform=fig.transFigure,facecolor="#363a45",edgecolor="none",zorder=8))
    fig.add_artist(Rectangle((x0/W,1-90/H),(x1-x0)/W,26/H,transform=fig.transFigure,facecolor=table_fill[c],edgecolor="none",zorder=8))
    fig.text((x0+x1)/2/W,1-51.5/H,table_header[c],color="#d1d4dc",fontsize=9.8,ha="center",va="center",zorder=9)
    fig.text((x0+x1)/2/W,1-78/H,table_row[c],color=table_text[c],fontsize=9.8,ha="center",va="center",zorder=9)

# ---------- header and footer ----------
fig.text(10/W, 1-16/H, "Tickmill created with TradingView.com, Apr 15, 2026 08:31 UTC+1",
         color="#e6e6e6", fontsize=8.6, ha="left", va="center")
LOGO = "#e8e8e8"
fig.add_artist(Polygon([(12/W,1-1290/H),(26/W,1-1290/H),(26/W,1-1305/H),(19/W,1-1305/H),(19/W,1-1296/H),(12/W,1-1296/H)],
                       transform=fig.transFigure,facecolor=LOGO,edgecolor="none"))
fig.add_artist(Circle((29.5/W,1-1293/H),0.0022,transform=fig.transFigure,facecolor=LOGO,edgecolor="none"))
fig.add_artist(Polygon([(33/W,1-1290/H),(41.5/W,1-1290/H),(35/W,1-1305/H),(26.5/W,1-1305/H)],
                       transform=fig.transFigure,facecolor=LOGO,edgecolor="none"))
fig.text(48.5/W, 1-1299.5/H, "TradingView", color=LOGO, fontsize=14.3, fontweight="semibold", ha="left", va="center")

fig.savefig("out.png", dpi=100, facecolor=BG)
